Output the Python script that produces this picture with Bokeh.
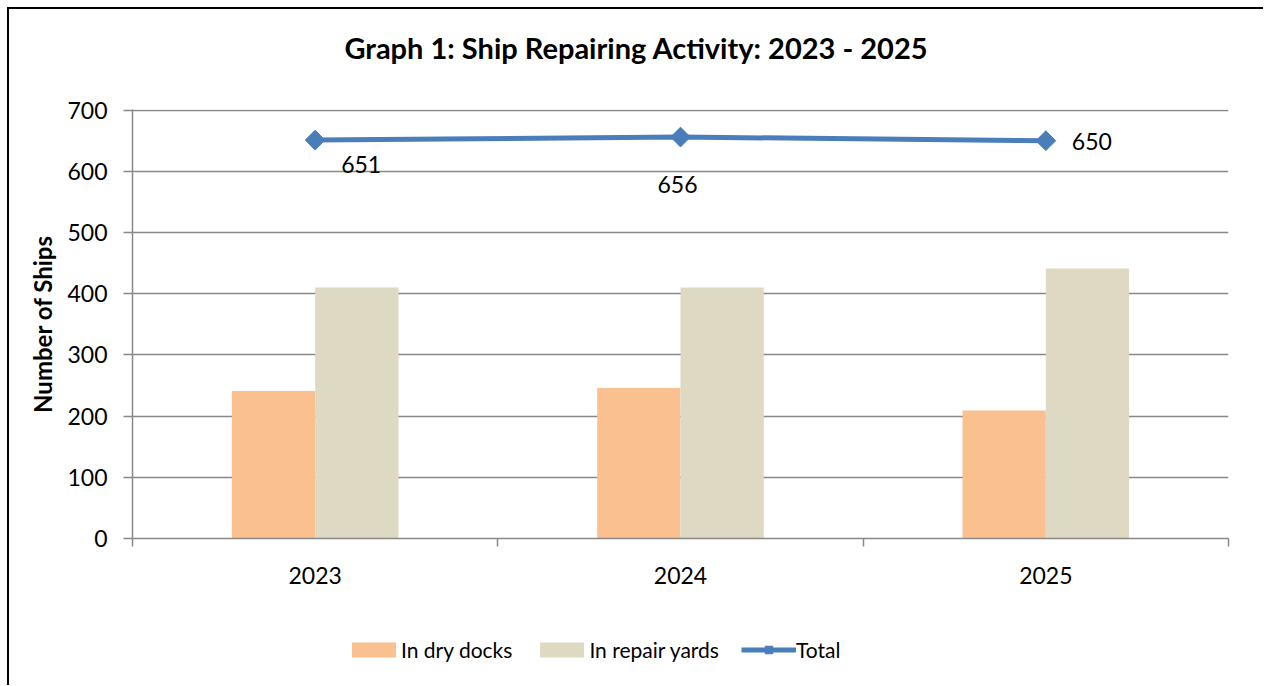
from bokeh.plotting import figure
from bokeh.layouts import column
from bokeh.models import Range1d, FixedTicker, Legend, LegendItem, ColumnDataSource, Div
from bokeh.transform import dodge
from bokeh.core.properties import value
from bokeh.embed import file_html
from bokeh.resources import INLINE
import numpy as np

# ---- data ----
title_text = "Graph 1: Ship Repairing Activity: 2023 - 2025"
years = ["2023", "2024", "2025"]
dry_docks = [241, 246, 209]
repair_yards = [410, 410, 441]
total = [651, 656, 650]
y_ticks = [0, 100, 200, 300, 400, 500, 600, 700]

# ---- style ----
FONT = "Lato"
ORANGE = "#FAC090"
BEIGE = "#DDD9C3"
BLUE = "#4A7EBB"
GRID = "#898989"
label_dx = [26, -3, 26]
label_dy = [24, 47, 1]
label_align = ["left", "center", "left"]

W, H0, H1, H2 = 1254, 78, 532, 66
bar_w = 0.228
x_center = (np.arange(len(years)) + 0.5).tolist()

head = Div(text=title_text, width=W, height=H0, margin=(0, 0, 0, 0),
           styles={"font-family": FONT, "font-size": "29px", "font-weight": "bold",
                   "text-align": "center", "line-height": "78px", "color": "black",
                   "background-color": "white"})

p = figure(width=W, height=H1, output_backend="svg", toolbar_location=None, title=None,
           x_range=Range1d(0, len(years)), y_range=Range1d(y_ticks[0], y_ticks[-1] + 1),
           min_border_left=123, min_border_right=35, min_border_top=22,
           min_border_bottom=H1 - 22 - 429)
p.outline_line_color = None
p.background_fill_color = "white"
p.border_fill_color = "white"

src = ColumnDataSource(dict(x=x_center, dry=dry_docks, rep=repair_yards, total=total,
                            lab=[str(v) for v in total], dx=label_dx, dy=label_dy, al=label_align))

p.vbar(x=dodge("x", -bar_w / 2), top="dry", width=bar_w, source=src,
       fill_color=ORANGE, line_color=None)
p.vbar(x=dodge("x", bar_w / 2), top="rep", width=bar_w, source=src,
       fill_color=BEIGE, line_color=None)
p.line(x="x", y="total", source=src, line_color=BLUE, line_width=5)
p.scatter(x="x", y="total", source=src, marker="square", size=14, angle=np.pi / 4,
          fill_color=BLUE, line_color=BLUE)
p.text(x="x", y="total", text="lab", source=src, x_offset="dx", y_offset="dy",
       text_align="al", text_baseline="middle", text_font=value(FONT),
       text_font_size="23px", text_color="black")

# x axis
xa = p.xaxis[0]
xa.ticker = FixedTicker(ticks=x_center, minor_ticks=list(range(len(years) + 1)))
xa.major_label_overrides = {c: y for c, y in zip(x_center, years)}
xa.major_tick_line_color = None
xa.minor_tick_line_color = GRID
xa.minor_tick_line_width = 1.5
xa.minor_tick_in = 0
xa.minor_tick_out = 8
xa.axis_line_color = GRID
xa.axis_line_width = 1.5
xa.major_label_text_font = FONT
xa.major_label_text_font_size = "23px"
xa.major_label_text_color = "black"
xa.major_label_standoff = 20

# y axis
ya = p.yaxis[0]
ya.ticker = FixedTicker(ticks=y_ticks)
ya.minor_tick_line_color = None
ya.major_tick_line_color = GRID
ya.major_tick_line_width = 1.5
ya.major_tick_in = 0
ya.major_tick_out = 9
ya.axis_line_color = GRID
ya.axis_line_width = 1.5
ya.major_label_text_font = FONT
ya.major_label_text_font_size = "23px"
ya.major_label_text_color = "black"
ya.major_label_standoff = 16
ya.axis_label = "Number of Ships"
ya.axis_label_text_font = FONT
ya.axis_label_text_font_size = "24px"
ya.axis_label_text_font_style = "bold"
ya.axis_label_text_color = "black"
ya.axis_label_standoff = 7

p.xgrid.visible = False
p.ygrid.ticker = FixedTicker(ticks=y_ticks)
p.ygrid.grid_line_color = GRID
p.ygrid.grid_line_width = 1.5

# ---- legend strip (series keys drawn from the same source, kept out of view) ----
q = figure(width=W, height=H2, output_backend="svg", toolbar_location=None, title=None,
           x_range=Range1d(100, 101), y_range=Range1d(5000, 5001),
           min_border_left=0, min_border_right=0, min_border_top=0, min_border_bottom=0)
q.axis.visible = False
q.grid.visible = False
q.outline_line_color = None
q.border_fill_color = "white"
q.background_fill_color = "white"
l_dry = q.vbar(x="x", top="dry", width=bar_w, source=src, fill_color=ORANGE, line_color=None)
l_rep = q.vbar(x="x", top="rep", width=bar_w, source=src, fill_color=BEIGE, line_color=None)
l_line = q.line(x="x", y="total", source=src, line_color=BLUE, line_width=5)
l_pts = q.scatter(x="x", y="total", source=src, marker="square", size=14, angle=np.pi / 4,
                  fill_color=BLUE, line_color=BLUE)

legend = Legend(items=[LegendItem(label="In dry docks", renderers=[l_dry]),
                       LegendItem(label="In repair yards", renderers=[l_rep]),
                       LegendItem(label="Total", renderers=[l_line, l_pts])],
                orientation="horizontal", location=(214, 23))
legend.background_fill_alpha = 0
legend.border_line_color = None
legend.padding = 0
legend.margin = 0
legend.spacing = 22
legend.label_standoff = 0
legend.glyph_width = 55
legend.glyph_height = 19
legend.label_text_font = FONT
legend.label_text_font_size = "21px"
legend.label_text_color = "black"
q.add_layout(legend)

layout = column(head, p, q, spacing=0)
layout.styles = {"border-left": "2px solid #000000", "border-top": "2px solid #000000",
                 "margin-left": "7px", "margin-top": "7px"}

open("out.html", "w").write(file_html(layout, INLINE))
